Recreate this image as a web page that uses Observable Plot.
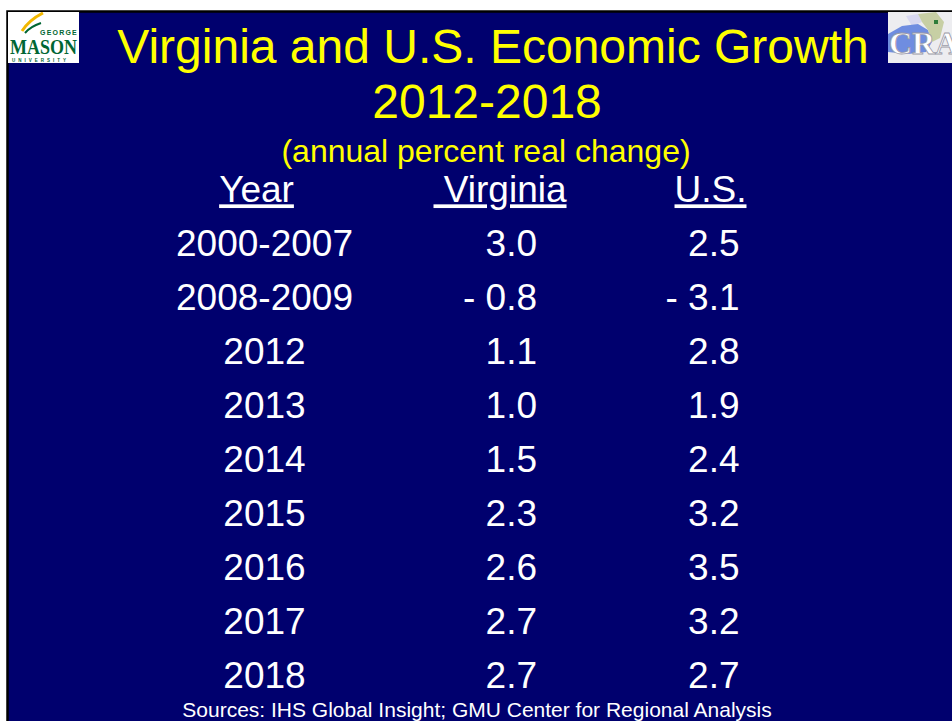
<!DOCTYPE html>
<html><head><meta charset="utf-8">
<script src="https://cdn.jsdelivr.net/npm/d3@7"></script>
<script src="https://cdn.jsdelivr.net/npm/@observablehq/plot@0.6"></script>
<style>
html,body{margin:0;padding:0;background:#fff;}
#slide{position:relative;width:952px;height:721px;overflow:hidden;font-family:"Liberation Sans",Arial,sans-serif;}
#slide svg.chart{position:absolute;left:0;top:0;}
.logo{position:absolute;}
</style></head><body><div id="slide"></div>
<script>
const titleLines = ["Virginia and U.S. Economic Growth", "2012-2018"];
const subtitle = "(annual percent real change)";
const columns = ["Year", "Virginia", "U.S."];
const years = ["2000-2007","2008-2009","2012","2013","2014","2015","2016","2017","2018"];
const virginia = [3.0, -0.8, 1.1, 1.0, 1.5, 2.3, 2.6, 2.7, 2.7];
const us = [2.5, -3.1, 2.8, 1.9, 2.4, 3.2, 3.5, 3.2, 2.7];
const source = "Sources: IHS Global Insight; GMU Center for Regional Analysis";

const NAVY = "#00006E", YELLOW = "#FFFF00", WHITE = "#FFFFFF";
const fmt = v => v < 0 ? "- " + Math.abs(v).toFixed(1) : v.toFixed(1);
const rows = years.map((y, i) => ({year: y, va: virginia[i], us: us[i]}));

const chart = Plot.plot({
  width: 952, height: 721,
  marginLeft: 7, marginTop: 11, marginRight: -2, marginBottom: -2,
  style: {background: "transparent", fontFamily: "'Liberation Sans', Arial, sans-serif"},
  x: {type: "point", domain: columns, range: [255, 710], padding: 0, axis: null},
  y: {type: "point", domain: ["header", ...years], range: [190, 676], padding: 0, axis: null},
  marks: [
    Plot.frame({fill: NAVY, stroke: "black", strokeWidth: 2.5}),
    // title
    Plot.text([titleLines[0]], {frameAnchor: "top", text: d => d, dx: 12, dy: 36, fontSize: 48, fill: YELLOW, lineAnchor: "middle"}),
    Plot.text([titleLines[1]], {frameAnchor: "top", text: d => d, dx: 6, dy: 91, fontSize: 48, fill: YELLOW, lineAnchor: "middle"}),
    Plot.text([subtitle], {frameAnchor: "top", text: d => d, dx: 5, dy: 140, fontSize: 32, fill: YELLOW, lineAnchor: "middle"}),
    // headers
    Plot.text(["Year"], {x: d => d, y: () => "header", text: d => d, fontSize: 37, fill: WHITE}),
    Plot.text(["Virginia"], {x: d => d, y: () => "header", text: d => "\u00A0" + d, dx: 16.5, fontSize: 37, fill: WHITE}),
    Plot.text(["U.S."], {x: d => d, y: () => "header", text: d => d, fontSize: 37, fill: WHITE}),
    // rows
    Plot.text(rows, {x: () => "Year", y: "year", text: "year", dx: 8, fontSize: 37, fill: WHITE}),
    Plot.text(rows, {x: () => "Virginia", y: "year", text: d => fmt(d.va), textAnchor: "end", dx: 53.5, fontSize: 37, fill: WHITE}),
    Plot.text(rows, {x: () => "U.S.", y: "year", text: d => fmt(d.us), textAnchor: "end", dx: 29, fontSize: 37, fill: WHITE}),
    // source
    Plot.text([source], {frameAnchor: "bottom", text: d => d, dx: -4, dy: -13, fontSize: 21, fill: WHITE, lineAnchor: "middle"})
  ]
});
chart.classList.add("chart");
// underline the column headers
d3.select(chart).selectAll("text").filter(function() {
  return columns.includes(this.textContent.replace(/\u00A0/g, "").trim());
}).style("text-decoration", "underline").attr("text-decoration", "underline");
const slide = document.getElementById("slide");
slide.appendChild(chart);

// logos
slide.insertAdjacentHTML("beforeend", `
<svg class="logo" style="left:8px;top:12px" width="71" height="51" xmlns="http://www.w3.org/2000/svg">
  <rect width="71" height="51" fill="#fff"/>
  <path d="M14 19 C 20 10, 27 5, 35 1" stroke="#F2B800" stroke-width="3" fill="none"/>
  <path d="M17 21 C 22 15, 27 13, 33 11" stroke="#006633" stroke-width="2" fill="none"/>
  <text x="70" y="23" text-anchor="end" font-family="Liberation Sans" font-weight="bold" font-size="7" fill="#006633" letter-spacing="1.2">GEORGE</text>
  <text x="2" y="42" font-family="Liberation Serif" font-weight="bold" font-size="20" fill="#006633" textLength="67" lengthAdjust="spacingAndGlyphs">MASON</text>
  <text x="4" y="50" font-family="Liberation Sans" font-weight="bold" font-size="4.5" fill="#006633" letter-spacing="3">UNIVERSITY</text>
</svg>
<svg class="logo" style="left:888px;top:12px" width="64" height="51" xmlns="http://www.w3.org/2000/svg">
  <rect width="64" height="51" fill="#EDEDF0"/>
  <path d="M18 4 L30 2 L34 10 L24 14 Z" fill="#D8D8F0"/>
  <path d="M0 22 L14 14 L30 12 L40 18 L44 30 L38 40 L20 42 L0 40 Z" fill="#6F8DE0"/>
  <path d="M30 2 L48 0 L56 10 L52 26 L44 30 L40 18 L34 10 Z" fill="#C7CFA4"/>
  <path d="M46 8 L50 8 L50 12 L46 12 Z" fill="#2E7D3A"/>
  <text x="1" y="42" font-family="Liberation Serif" font-weight="bold" font-size="32" fill="#fff" stroke="#9A9AA8" stroke-width="0.8">CRA</text>
</svg>`);
</script></body></html>
